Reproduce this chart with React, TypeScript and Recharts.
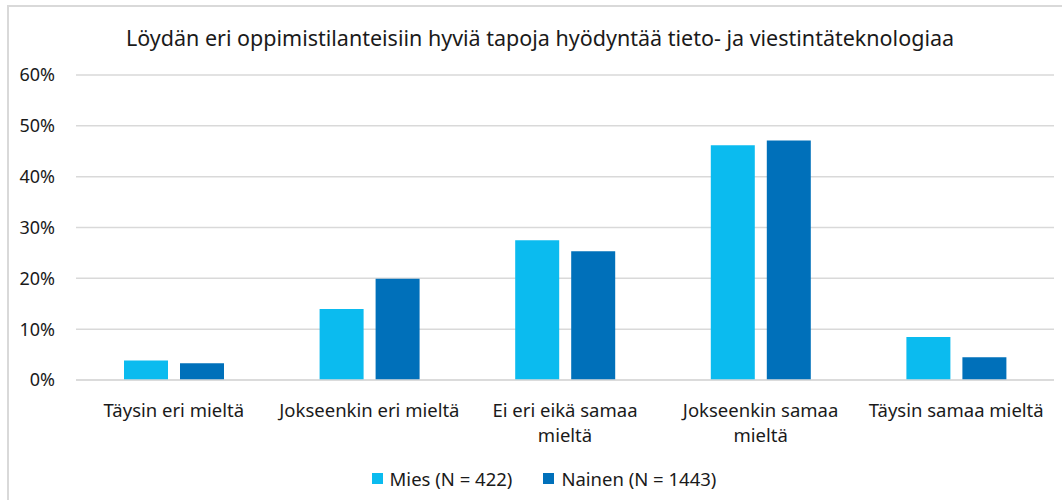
import { BarChart, Bar, XAxis, YAxis, CartesianGrid } from "recharts";

const title =
  "Löydän eri oppimistilanteisiin hyviä tapoja hyödyntää tieto- ja viestintäteknologiaa";

const categories = [
  "Täysin eri mieltä",
  "Jokseenkin eri mieltä",
  "Ei eri eikä samaa mieltä",
  "Jokseenkin samaa mieltä",
  "Täysin samaa mieltä",
];

// how Excel wrapped the category labels
const categoryLines = [
  ["Täysin eri mieltä"],
  ["Jokseenkin eri mieltä"],
  ["Ei eri eikä samaa", "mieltä"],
  ["Jokseenkin samaa", "mieltä"],
  ["Täysin samaa mieltä"],
];

const mies = [3.85, 13.95, 27.5, 46.2, 8.45];
const nainen = [3.3, 19.9, 25.35, 47.1, 4.5];

const yTicks = [0, 10, 20, 30, 40, 50, 60];

const seriesNames = ["Mies (N = 422)", "Nainen (N = 1443)"];
const colors = ["#0BBBEF", "#0070BA"];

const data = categories.map((c, i) => ({
  name: c,
  mies: mies[i],
  nainen: nainen[i],
}));

const FONT = "'Noto Sans', sans-serif";
const TEXT = "#1a1a1a";

function CategoryTick(props: any) {
  const { x, y, payload } = props;
  const lines = categoryLines[payload.index] ?? [payload.value];
  return (
    <text
      x={x}
      y={y}
      textAnchor="middle"
      fontFamily={FONT}
      fontSize={18.5}
      fill={TEXT}
    >
      {lines.map((line, i) => (
        <tspan key={i} x={x} dy={i === 0 ? 29 : 25}>
          {line}
        </tspan>
      ))}
    </text>
  );
}

function ChartLegend() {
  return (
    <div
      style={{
        position: "absolute",
        left: 0,
        top: 466,
        width: 1062,
        display: "flex",
        justifyContent: "center",
        gap: 31,
        fontFamily: FONT,
        fontSize: 18.5,
        color: TEXT,
        paddingLeft: 26,
        boxSizing: "border-box",
      }}
    >
      {seriesNames.map((n, i) => (
        <div key={n} style={{ display: "flex", alignItems: "center", gap: 7 }}>
          <span
            style={{ width: 11, height: 11, background: colors[i], display: "inline-block" }}
          />
          <span>{n}</span>
        </div>
      ))}
    </div>
  );
}

export default function App() {
  return (
    <div
      style={{
        position: "absolute",
        left: 0,
        top: 0,
        width: 1062,
        height: 500,
        overflow: "hidden",
        background: "#fff",
      }}
    >
      <div
        style={{
          position: "absolute",
          left: 7,
          top: 5,
          width: 1100,
          height: 600,
          border: "2px solid #D9D9D9",
        }}
      />
      <div
        style={{
          position: "absolute",
          left: 0,
          top: 23,
          width: 1080,
          textAlign: "center",
          fontFamily: FONT,
          fontSize: 21.5,
          color: TEXT,
        }}
      >
        {title}
      </div>
      <BarChart
        width={1062}
        height={500}
        data={data}
        margin={{ top: 75, right: 8, left: 0, bottom: 90 }}
        barSize={44}
        barGap={12}
        style={{ position: "absolute", left: 0, top: 0 }}
      >
        <CartesianGrid vertical={false} stroke="#D9D9D9" strokeWidth={1.5} />
        <XAxis
          dataKey="name"
          height={30}
          axisLine={{ stroke: "#D9D9D9", strokeWidth: 1.5 }}
          tickLine={false}
          interval={0}
          tick={<CategoryTick />}
        />
        <YAxis
          width={76}
          domain={[0, 60]}
          ticks={yTicks}
          axisLine={false}
          tickLine={false}
          tickSize={0}
          tickMargin={21}
          tickFormatter={(v) => `${v}%`}
          tick={{ fontFamily: FONT, fontSize: 18, fill: TEXT }}
        />
        <Bar dataKey="mies" name={seriesNames[0]} fill={colors[0]} isAnimationActive={false} />
        <Bar dataKey="nainen" name={seriesNames[1]} fill={colors[1]} isAnimationActive={false} />
      </BarChart>
      <ChartLegend />
    </div>
  );
}
